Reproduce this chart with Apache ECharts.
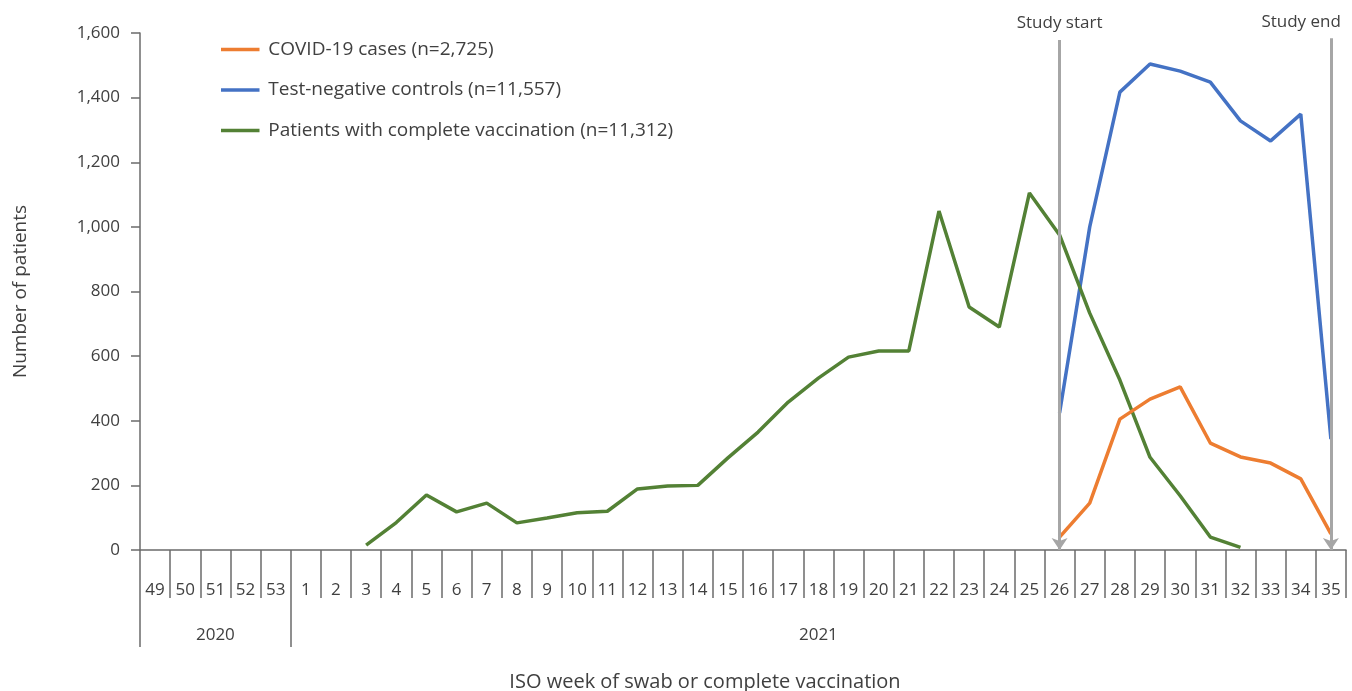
<!DOCTYPE html>
<html>
<head>
<meta charset="utf-8">
<script src="https://cdn.jsdelivr.net/npm/echarts@6/dist/echarts.min.js"></script>
<style>
html,body{margin:0;padding:0;background:#fff;}
#chart{width:1352px;height:691px;}
</style>
</head>
<body>
<div id="chart"></div>
<script>
// ---- Data ----
const weeks = ['49','50','51','52','53','1','2','3','4','5','6','7','8','9','10','11','12','13','14','15','16','17','18','19','20','21','22','23','24','25','26','27','28','29','30','31','32','33','34','35'];
const yearNames = ['2020','2021'];
const yearStartIdx = [0, 5];
const yTicks = [0, 200, 400, 600, 800, 1000, 1200, 1400, 1600];

const seriesNames = ['COVID-19 cases (n=2,725)', 'Test-negative controls (n=11,557)', 'Patients with complete vaccination (n=11,312)'];
// week 26 .. 35
const cases = [40, 145, 405, 467, 505, 331, 288, 269, 220, 50];
const controls = [424, 1000, 1417, 1504, 1482, 1448, 1328, 1266, 1349, 343];
// week 3 .. 32
const vaccinated = [15, 85, 170, 118, 145, 84, 99, 115, 120, 189, 198, 200, 285, 365, 458, 532, 597, 616, 616, 1049, 752, 690, 1105, 975, 733, 526, 287, 168, 40, 8];

const markerNames = ['Study start', 'Study end'];
const markerWeeks = ['26', '35'];
const markerTop = [1578, 1584];

// ---- Build ----
function place(startWeek, values) {
  const arr = weeks.map(() => null);
  const s = weeks.indexOf(startWeek);
  values.forEach((v, i) => { arr[s + i] = v; });
  return arr;
}
const FONT = 'Open Sans';
const TXT = '#404040';
const AX = '#6b6b6b';

const yearMid = yearStartIdx.map((s, i) => {
  const e = i + 1 < yearStartIdx.length ? yearStartIdx[i + 1] : weeks.length;
  return (s + e) / 2;
});

const chart = echarts.init(document.getElementById('chart'));
chart.setOption({
  animation: false,
  backgroundColor: '#fff',
  textStyle: { fontFamily: FONT },
  grid: { left: 140, right: 6, top: 33, bottom: 141, containLabel: false, outerBoundsMode: 'none' },
  legend: {
    orient: 'vertical', left: 216, top: 35,
    icon: 'path://M0,0H44V4H0Z',
    itemWidth: 46, itemHeight: 3.5, itemGap: 21.5,
    textStyle: { fontFamily: FONT, fontSize: 19, color: TXT, padding: [0, 0, 0, 0] },
    data: seriesNames
  },
  xAxis: [{
    type: 'category', data: weeks, position: 'bottom', boundaryGap: true,
    axisLine: { show: true, lineStyle: { color: AX, width: 1.5 } },
    axisTick: { show: true, length: 48, interval: 0, lineStyle: { color: AX, width: 1.5 } },
    axisLabel: { interval: 0, fontSize: 17, color: TXT, margin: 32, fontFamily: FONT },
    name: 'ISO week of swab or complete vaccination', nameLocation: 'middle', nameGap: 122,
    nameTextStyle: { fontSize: 20, color: TXT, fontFamily: FONT, padding: [0, 76, 0, 0] }
  }, {
    type: 'value', min: 0, max: weeks.length, position: 'bottom', offset: 48,
    splitLine: { show: false },
    axisLine: { show: false },
    axisTick: { show: true, length: 49, customValues: yearStartIdx, lineStyle: { color: AX, width: 1.5 } },
    axisLabel: {
      fontSize: 17, color: TXT, margin: 29, fontFamily: FONT,
      customValues: yearMid,
      formatter: (v) => { const k = yearMid.indexOf(v); return k >= 0 ? yearNames[k] : ''; }
    }
  }],
  yAxis: {
    type: 'value', min: yTicks[0], max: yTicks[yTicks.length - 1], interval: yTicks[1] - yTicks[0],
    splitLine: { show: false },
    axisLine: { show: true, lineStyle: { color: AX, width: 1.5 } },
    axisTick: { show: true, length: 9, lineStyle: { color: AX, width: 1.5 } },
    axisLabel: { fontSize: 17, color: TXT, margin: 20, fontFamily: FONT,
      formatter: v => v.toLocaleString('en-US') },
    name: 'Number of patients', nameLocation: 'middle', nameGap: 110, nameRotate: 90,
    nameTextStyle: { fontSize: 19, color: TXT, fontFamily: FONT }
  },
  series: [{
    name: seriesNames[0], type: 'line', data: place('26', cases), symbol: 'none',
    lineStyle: { width: 3.5, color: '#ED7D31' }, itemStyle: { color: '#ED7D31' }, z: 3
  }, {
    name: seriesNames[1], type: 'line', data: place('26', controls), symbol: 'none',
    lineStyle: { width: 3.5, color: '#4472C4' }, itemStyle: { color: '#4472C4' }, z: 2
  }, {
    name: seriesNames[2], type: 'line', data: place('3', vaccinated), symbol: 'none',
    lineStyle: { width: 3.5, color: '#538135' }, itemStyle: { color: '#538135' }, z: 2,
    markLine: {
      silent: true, symbol: ['none', 'arrow'], symbolSize: [12, 12], z: 5,
      lineStyle: { color: '#A6A6A6', width: 3, type: 'solid' },
      label: { show: true, position: 'start', distance: 8, fontSize: 17, color: TXT, fontFamily: FONT },
      data: markerNames.map((n, i) => {
        const last = i === markerNames.length - 1;
        return [
          { name: n, coord: [markerWeeks[i], markerTop[i]],
            label: { formatter: n, align: last ? 'right' : 'center', offset: last ? [10, 0] : [0, 0] } },
          { coord: [markerWeeks[i], 0] }
        ];
      })
    }
  }]
});
</script>
</body>
</html>
